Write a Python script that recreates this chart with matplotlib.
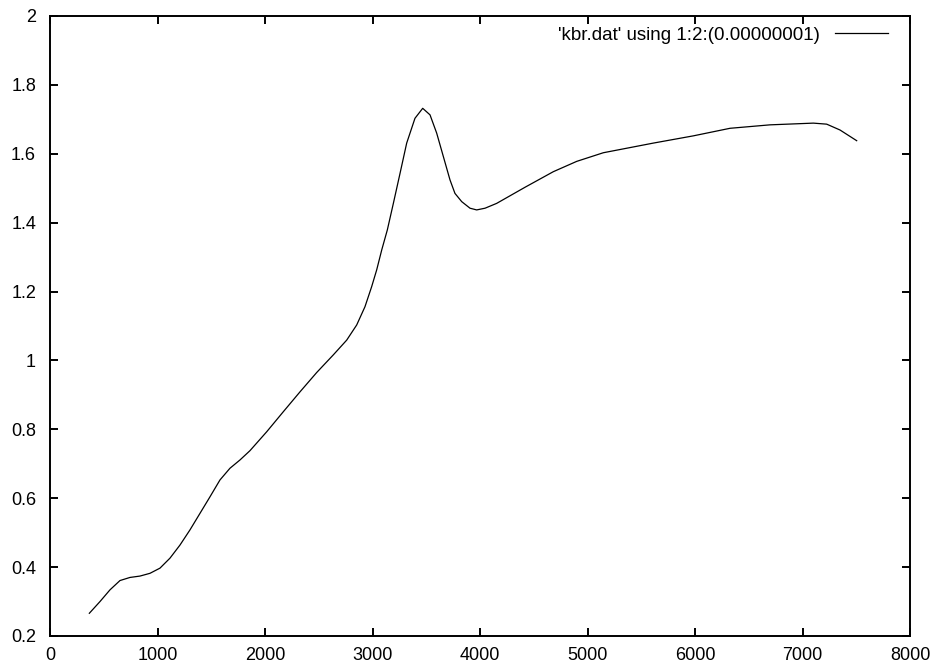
import numpy as np
import matplotlib
matplotlib.use('Agg')
import matplotlib.pyplot as plt

plt.rcParams['font.family'] = ['Liberation Sans', 'DejaVu Sans']

# values
wavenumber = [366, 465, 558, 651, 744, 837, 930, 1023, 1116, 1209, 1302, 1395,
              1488, 1581, 1674, 1767, 1860, 2016, 2170, 2326, 2481, 2635, 2760,
              2853, 2930, 2992, 3039, 3086, 3138, 3194, 3256, 3318, 3395, 3467,
              3535, 3597, 3659, 3721, 3767, 3830, 3907, 3969, 4047, 4155, 4279,
              4420, 4682, 4900, 5147, 5612, 5984, 6326, 6698, 7101, 7225, 7349,
              7504]
absorb = [0.266, 0.300, 0.334, 0.361, 0.370, 0.374, 0.382, 0.397, 0.426, 0.464,
          0.508, 0.556, 0.604, 0.653, 0.687, 0.711, 0.738, 0.793, 0.851, 0.909,
          0.965, 1.016, 1.059, 1.103, 1.156, 1.214, 1.263, 1.321, 1.379, 1.456,
          1.543, 1.631, 1.703, 1.732, 1.713, 1.660, 1.592, 1.524, 1.485, 1.461,
          1.442, 1.437, 1.442, 1.456, 1.478, 1.503, 1.548, 1.578, 1.603, 1.631,
          1.652, 1.674, 1.684, 1.689, 1.686, 1.669, 1.638]

fig = plt.figure(figsize=(9.38, 6.68), dpi=100)
ax = fig.add_axes([50/938, 32/668, 860/938, 620/668])

ax.plot(wavenumber, absorb, color='black', lw=0.9,
        label="'kbr.dat' using 1:2:(0.00000001)")

ax.set_xlim(0, 8000)
ax.set_ylim(0.2, 2)
ax.set_xticks(np.arange(0, 8001, 1000))
ax.set_yticks(np.arange(0.2, 2.01, 0.2))
ax.set_yticklabels(['0.2', '0.4', '0.6', '0.8', '1', '1.2', '1.4', '1.6', '1.8', '2'])
ax.tick_params(direction='in', length=6, width=1.4, top=True, right=True,
               labelsize=13)
ax.tick_params(axis='x', pad=8)
ax.tick_params(axis='y', pad=10)
for s in ax.spines.values():
    s.set_linewidth(1.4)

ax.legend(loc='upper right', bbox_to_anchor=(0.9826, 0.995), borderaxespad=0,
          frameon=False, markerfirst=False, fontsize=13.5,
          handlelength=2.8, handletextpad=0.8)

plt.savefig('out.png', dpi=100)
